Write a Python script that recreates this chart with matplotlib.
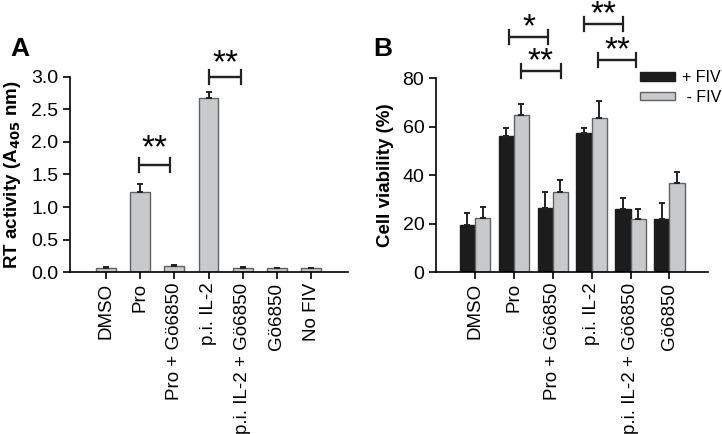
import numpy as np
import matplotlib.pyplot as plt

plt.rcParams['font.family'] = ['Liberation Sans', 'DejaVu Sans']

# panel A data
labels_a = ["DMSO", "Pro", "Pro + Gö6850", "p.i. IL-2", "p.i. IL-2 + Gö6850", "Gö6850", "No FIV"]
rt = [0.07, 1.23, 0.10, 2.67, 0.07, 0.07, 0.06]
rt_err = [0.01, 0.13, 0.01, 0.10, 0.01, 0.0, 0.0]

# panel B data
labels_b = ["DMSO", "Pro", "Pro + Gö6850", "p.i. IL-2", "p.i. IL-2 + Gö6850", "Gö6850"]
via_plus = [19.5, 56.2, 26.3, 57.2, 26.0, 22.0]
via_plus_err = [5.0, 3.4, 6.9, 2.1, 4.4, 6.6]
via_minus = [22.4, 64.9, 33.2, 63.5, 21.9, 36.6]
via_minus_err = [4.6, 4.4, 4.8, 6.9, 4.0, 4.7]

gray = "#c8c9cb"
edge = "#626262"
black = "#1c1c1c"

fig = plt.figure(figsize=(7.22, 4.34), dpi=100)

def bracket(ax, x1, x2, y, h, txt, ty, fs=24):
    ax.plot([x1, x1, x2, x2], [y - h, y, y, y - h], color='#222222', lw=1.6, clip_on=False)
    ax.plot([x1, x1, x2, x2], [y + h, y, y, y + h], color='#222222', lw=1.6, clip_on=False)
    ax.text((x1 + x2) / 2, ty, txt, ha='center', va='center', fontsize=fs, clip_on=False)

# ---- A
ax = fig.add_axes([0.097, 0.373, 0.385, 0.450])
x = np.arange(len(labels_a))
ax.bar(x, rt, width=0.58, color=gray, edgecolor=edge, linewidth=1)
ax.errorbar(x, rt, yerr=[np.zeros(len(rt)), rt_err], fmt='none', ecolor='#222222',
            elinewidth=1.4, capsize=2.5, capthick=1.4)
ax.set_xlim(-1.05, 7.08)
ax.set_ylim(0, 3.0)
ticks_a = np.arange(0, 3.01, 0.5)
ax.set_yticks(ticks_a)
ax.set_yticklabels([f"{v:.1f}" for v in ticks_a])
ax.set_xticks(x)
ax.set_xticklabels(labels_a, rotation=90, fontsize=13.5)
ax.set_ylabel("RT activity (A$_{\\mathbf{405}}$ nm)", fontsize=13.5, fontweight='bold', labelpad=6)
fig.text(10 / 722, 1 - 56 / 434, "A", fontsize=19, fontweight='bold', va='baseline')

bracket(ax, 0.96, 1.86, 1.65, 0.11, "**", 1.90)
bracket(ax, 3.02, 3.95, 3.0, 0.11, "**", 3.20)

# ---- B
ax2 = fig.add_axes([0.604, 0.373, 0.377, 0.447])
xb = np.arange(len(labels_b))
w = 0.39
ax2.bar(xb - w / 2, via_plus, width=w, color=black, edgecolor=black, linewidth=1, label="+ FIV")
ax2.bar(xb + w / 2, via_minus, width=w, color=gray, edgecolor=edge, linewidth=1, label=" - FIV")
ax2.errorbar(xb - w / 2, via_plus, yerr=[np.zeros(len(xb)), via_plus_err], fmt='none',
             ecolor='#222222', elinewidth=1.4, capsize=2.5, capthick=1.4)
ax2.errorbar(xb + w / 2, via_minus, yerr=[np.zeros(len(xb)), via_minus_err], fmt='none',
             ecolor='#222222', elinewidth=1.4, capsize=2.5, capthick=1.4)
ax2.set_xlim(-1.0, 6.0)
ax2.set_ylim(0, 80)
ax2.set_yticks([0, 20, 40, 60, 80])
ax2.set_xticks(xb)
ax2.set_xticklabels(labels_b, rotation=90, fontsize=13.5)
ax2.set_ylabel("Cell viability (%)", fontsize=13.5, fontweight='bold', labelpad=6)
fig.text(373 / 722, 1 - 56 / 434, "B", fontsize=19, fontweight='bold', va='baseline')
fig.legend(loc='upper left', bbox_to_anchor=(640 / 722, 1 - 70 / 434), frameon=False,
           fontsize=11.5, handlelength=2.2, handleheight=0.45, handletextpad=0.45,
           labelspacing=0.3, borderpad=0, borderaxespad=0)

bracket(ax2, 0.88, 1.88, 97.1, 2.9, "*", 100.6)
bracket(ax2, 1.19, 2.2, 83.1, 2.9, "**", 86.8)
bracket(ax2, 2.80, 3.80, 102.5, 2.9, "**", 106.2)
bracket(ax2, 3.16, 4.15, 87.6, 2.9, "**", 91.3)

for a in (ax, ax2):
    for s in ('top', 'right'):
        a.spines[s].set_visible(False)
    a.spines['left'].set_linewidth(1.2)
    a.spines['bottom'].set_linewidth(1.2)
    a.tick_params(axis='both', width=1.2, length=5, direction='out')
    a.tick_params(axis='x', pad=2.5)
    a.tick_params(axis='y', labelsize=14)

fig.savefig("out.png", dpi=100)
